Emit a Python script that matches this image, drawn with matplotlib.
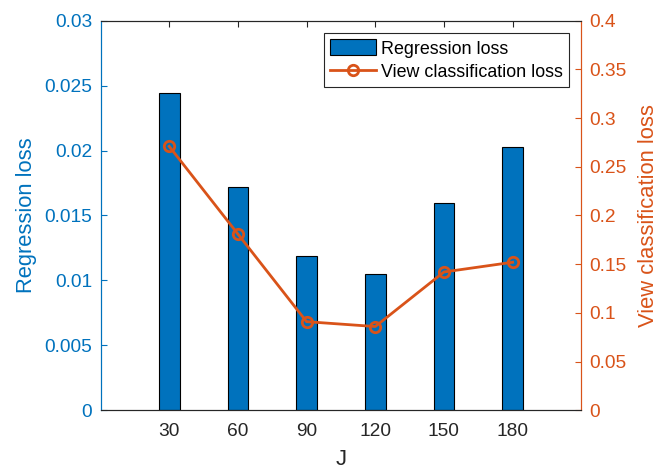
#!/usr/bin/env python3
# Regression loss (bars) and view classification loss (line) vs J
import matplotlib
matplotlib.use('Agg')
import matplotlib.pyplot as plt

# Data
J = [30, 60, 90, 120, 150, 180]
regression_loss = [0.0244, 0.0172, 0.0119, 0.0105, 0.0160, 0.0203]
view_cls_loss = [0.271, 0.181, 0.091, 0.086, 0.142, 0.152]

blue = '#0072BD'
orange = '#D95319'
dark = '#262626'

plt.rcParams['font.family'] = ['Liberation Sans', 'DejaVu Sans']

fig = plt.figure(figsize=(6.67, 4.70), dpi=100)
ax = fig.add_axes([0.1507, 0.127, 0.7208, 0.829])

bars = ax.bar(J, regression_loss, width=9, color=blue, edgecolor='black',
              linewidth=0.8, label='Regression loss', zorder=2)
ax.set_xlim(0, 210)
ax.set_ylim(0, 0.03)
ax.set_xticks(J)
ax.set_yticks([0, 0.005, 0.01, 0.015, 0.02, 0.025, 0.03])
ax.set_yticklabels(['0', '0.005', '0.01', '0.015', '0.02', '0.025', '0.03'])

ax2 = ax.twinx()
line, = ax2.plot(J, view_cls_loss, color=orange, linewidth=2.0, marker='o',
                 markersize=7.5, markerfacecolor='none', markeredgewidth=2.0,
                 label='View classification loss', zorder=3)
ax2.set_ylim(0, 0.4)
ax2.set_yticks([0, 0.05, 0.1, 0.15, 0.2, 0.25, 0.3, 0.35, 0.4])
ax2.set_yticklabels(['0', '0.05', '0.1', '0.15', '0.2', '0.25', '0.3', '0.35', '0.4'])

# Axis styling (MATLAB-like box with inward ticks)
for a in (ax, ax2):
    a.spines['top'].set_color(dark)
    a.spines['bottom'].set_color(dark)
    a.spines['left'].set_color(blue)
    a.spines['right'].set_color(orange)
    for s in a.spines.values():
        s.set_linewidth(0.8)

ax.tick_params(axis='x', direction='in', length=4, top=True, colors=dark,
               labelsize=13.8, pad=9)
ax.tick_params(axis='y', direction='in', length=4, colors=blue,
               labelsize=13.8, pad=6)
ax2.tick_params(axis='y', direction='in', length=4, colors=orange,
                labelsize=13.8, pad=6)

ax.set_xlabel('J', fontsize=15.8, color=dark, labelpad=6.5)
ax.set_ylabel('Regression loss', fontsize=15.8, color=blue, labelpad=5)
ax2.set_ylabel('View classification loss', fontsize=15.8, color=orange, labelpad=8)

# Legend
leg = ax2.legend([bars, line], ['Regression loss', 'View classification loss'],
                 loc='upper right', bbox_to_anchor=(0.975, 0.968),
                 borderaxespad=0, fontsize=12.9, fancybox=False,
                 framealpha=1, edgecolor=dark, handlelength=2.55,
                 handleheight=1.0, handletextpad=0.3, borderpad=0.35,
                 labelspacing=0.3)
leg.get_frame().set_linewidth(0.8)

plt.savefig('out.png', dpi=100)
